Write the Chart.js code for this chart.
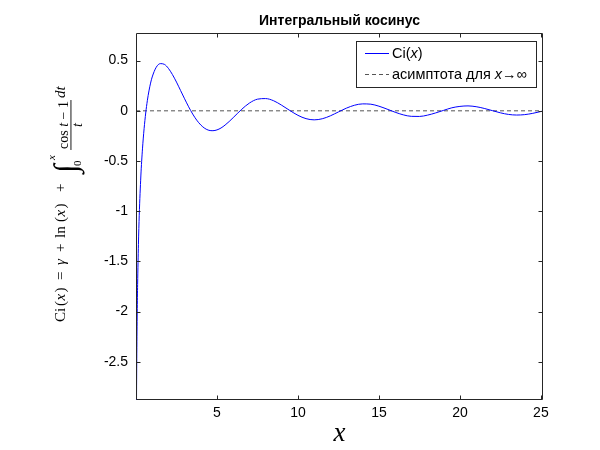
<!DOCTYPE html>
<html>
<head>
<meta charset="utf-8">
<script src="https://cdn.jsdelivr.net/npm/chart.js@4.4.0/dist/chart.umd.min.js"></script>
<style>
  html, body { margin: 0; padding: 0; background: #fff; }
</style>
</head>
<body>
<canvas id="ciChart" width="600" height="450"></canvas>
<script>
// values
const ciX = [0.02, 0.032, 0.05, 0.075, 0.1, 0.15, 0.2, 0.3, 0.4, 0.5, 0.6, 0.7, 0.8, 0.9, 1.0,
  1.25, 1.5, 1.75, 2.0, 2.25, 2.5, 2.75, 3.0, 3.25, 3.5, 3.75, 4.0, 4.25, 4.5, 4.75, 5.0,
  5.25, 5.5, 5.75, 6.0, 6.25, 6.5, 7.0, 7.5, 8.0, 8.5, 9.0, 9.5, 10.0, 10.5, 11.0, 11.5,
  12.0, 12.5, 13.0, 13.5, 14.0, 14.5, 15.0, 15.5, 16.0, 16.5, 17.0, 17.5, 18.0, 18.5, 19.0,
  19.5, 20.0, 20.5, 21.0, 21.5, 22.0, 22.5, 23.0, 23.5, 24.0, 24.5, 25.0, 25.13];
const ciY = [-3.34, -2.87, -2.42, -2.01, -1.73, -1.33, -1.04, -0.649, -0.379, -0.178, -0.022, 0.101, 0.198, 0.276, 0.337,
  0.434, 0.470, 0.463, 0.423, 0.361, 0.286, 0.203, 0.120, 0.040, -0.032, -0.093, -0.141, -0.175, -0.194, -0.198, -0.190,
  -0.171, -0.142, -0.107, -0.068, -0.028, 0.011, 0.077, 0.116, 0.122, 0.100, 0.055, 0.003, -0.045, -0.078, -0.090, -0.079,
  -0.050, -0.011, 0.027, 0.056, 0.069, 0.066, 0.046, 0.017, -0.014, -0.040, -0.055, -0.056, -0.043, -0.021, 0.005,
  0.030, 0.044, 0.049, 0.041, 0.024, 0.002, -0.020, -0.036, -0.042, -0.038, -0.025, -0.007, -0.002];
const asymX = [0, 25.13];
const asymY = [0, 0];
const seriesLabels = ['Ci(x)', 'асимптота для x→∞'];
const xTicks = [5, 10, 15, 20, 25];
const yTicks = [-2.5, -2, -1.5, -1, -0.5, 0, 0.5];
const xRange = [0, 25.13];
const yRange = [-2.88, 0.775];
const chartTitle = 'Интегральный косинус';
const xTitle = 'x';

const SANS = '"Liberation Sans", Arial, Helvetica, sans-serif';
const SERIF = '"Liberation Serif", "Times New Roman", serif';
const AXIS = '#262626';

function toPoints(xs, ys) {
    return xs.map((v, i) => ({ x: v, y: ys[i] }));
}

// legend text, latin x in italic
function drawMixed(ctx, text, x, y, size) {
    let cx = x;
    text.split(/(x)/).forEach(part => {
        if (!part) return;
        ctx.font = (part === 'x' ? 'italic ' : '') + size + 'px ' + SANS;
        ctx.fillText(part, cx, y);
        cx += ctx.measureText(part).width;
    });
}

// the formula on the y axis, written along the axis bottom to top
function drawYLabel(ctx) {
    const rm = '15px ' + SERIF, it = 'italic 15px ' + SERIF;
    const rmS = '14px ' + SERIF, itS = 'italic 14px ' + SERIF;
    ctx.save();
    ctx.translate(65, 322);
    ctx.rotate(-Math.PI / 2);
    ctx.fillStyle = '#000';
    ctx.textAlign = 'left';
    ctx.textBaseline = 'alphabetic';
    const put = (t, s, v, f) => { ctx.font = f; ctx.fillText(t, s, v); };
    put('Ci', 0, 0, rm);
    put('(', 16, 0, rm); put('x', 21.5, 0, it); put(')', 29.5, 0, rm);
    put('=', 42, 0, rm);
    put('γ', 57, 0, it);
    put('+', 70, 0, rm);
    put('ln', 84, 0, rm);
    put('(', 100, 0, rm); put('x', 105.5, 0, it); put(')', 113.5, 0, rm);
    put('+', 130, 0, rm);
    put('∫', 149, 11, '32px ' + SERIF);
    put('x', 162, -10, 'italic 11px ' + SERIF);
    put('0', 156, 16, '11px ' + SERIF);
    // fraction
    ctx.font = rmS;
    const wCos = ctx.measureText('cos ').width;
    ctx.font = itS;
    const wT = ctx.measureText('t').width;
    ctx.font = rmS;
    const wRest = ctx.measureText(' − 1').width;
    const numW = wCos + wT + wRest;
    const c = 197;
    const s0 = c - numW / 2;
    put('cos ', s0, 3, rmS);
    put('t', s0 + wCos, 3, itS);
    put(' − 1', s0 + wCos + wT, 3, rmS);
    ctx.fillRect(c - numW / 2 - 1, 5.5, numW + 2, 0.9);
    put('t', c - wT / 2, 16.5, itS);
    put('dt', 224, 0, it);
    ctx.restore();
}

const decorations = {
    id: 'decorations',
    afterDraw(chart) {
        const { ctx, chartArea: a } = chart;
        const xs = chart.scales.x, ys = chart.scales.y;
        ctx.save();

        // axes box with inward ticks
        const L = Math.round(a.left) + 0.5, R = Math.round(a.right) - 0.5;
        const T = Math.round(a.top) + 0.5, B = Math.round(a.bottom) - 0.5;
        ctx.strokeStyle = AXIS;
        ctx.lineWidth = 1;
        ctx.beginPath();
        ctx.rect(L, T, R - L, B - T);
        xs.ticks.forEach(t => {
            const px = Math.round(xs.getPixelForValue(t.value)) + 0.5;
            ctx.moveTo(px, B); ctx.lineTo(px, B - 4);
            ctx.moveTo(px, T); ctx.lineTo(px, T + 4);
        });
        ys.ticks.forEach(t => {
            const py = Math.round(ys.getPixelForValue(t.value)) + 0.5;
            ctx.moveTo(L, py); ctx.lineTo(L + 4, py);
            ctx.moveTo(R, py); ctx.lineTo(R - 4, py);
        });
        ctx.stroke();

        // title
        ctx.fillStyle = '#000';
        ctx.textAlign = 'center';
        ctx.textBaseline = 'middle';
        ctx.font = 'bold 14px ' + SANS;
        ctx.fillText(chartTitle, (a.left + a.right) / 2, 21);

        // x axis title
        ctx.font = 'italic 27px ' + SERIF;
        ctx.fillText(xTitle, (a.left + a.right) / 2, 434);

        drawYLabel(ctx);

        // legend
        const bx = 356.5, by = 41.5, bw = 180, bh = 46;
        ctx.fillStyle = '#fff';
        ctx.fillRect(bx, by, bw, bh);
        ctx.strokeStyle = AXIS;
        ctx.strokeRect(bx, by, bw, bh);
        const rows = [53.5, 74.5];
        chart.data.datasets.forEach((ds, i) => {
            ctx.beginPath();
            ctx.strokeStyle = ds.borderColor;
            ctx.lineWidth = ds.borderWidth;
            ctx.setLineDash(ds.borderDash || []);
            ctx.moveTo(365, rows[i]);
            ctx.lineTo(389, rows[i]);
            ctx.stroke();
            ctx.setLineDash([]);
            ctx.fillStyle = '#000';
            ctx.textAlign = 'left';
            ctx.textBaseline = 'middle';
            drawMixed(ctx, ds.label, 392, rows[i], 14.5);
        });
        ctx.restore();
    }
};

new Chart(document.getElementById('ciChart'), {
    type: 'line',
    data: {
        datasets: [
            {
                label: seriesLabels[0],
                data: toPoints(ciX, ciY),
                borderColor: '#0000ff',
                borderWidth: 1,
                pointRadius: 0,
                cubicInterpolationMode: 'monotone',
                fill: false
            },
            {
                label: seriesLabels[1],
                data: toPoints(asymX, asymY),
                borderColor: '#555555',
                borderWidth: 1,
                borderDash: [4, 3],
                pointRadius: 0,
                fill: false
            }
        ]
    },
    options: {
        responsive: false,
        animation: false,
        layout: { padding: { left: 0, right: 57, top: 33, bottom: 0 } },
        plugins: {
            legend: { display: false },
            title: { display: false },
            tooltip: { enabled: false }
        },
        scales: {
            x: {
                type: 'linear',
                min: xRange[0],
                max: xRange[1],
                afterBuildTicks: s => { s.ticks = xTicks.map(v => ({ value: v })); },
                afterFit: s => { s.height = 50; },
                grid: { display: false, drawTicks: false },
                border: { display: false },
                ticks: {
                    color: '#000',
                    font: { family: SANS, size: 14 },
                    padding: 5,
                    maxRotation: 0,
                    autoSkip: false,
                    callback: v => String(v)
                }
            },
            y: {
                type: 'linear',
                min: yRange[0],
                max: yRange[1],
                afterBuildTicks: s => { s.ticks = yTicks.map(v => ({ value: v })); },
                afterFit: s => { s.width = 136; },
                grid: { display: false, drawTicks: false },
                border: { display: false },
                ticks: {
                    color: '#000',
                    font: { family: SANS, size: 14 },
                    padding: 8,
                    autoSkip: false,
                    callback: v => String(v)
                }
            }
        }
    },
    plugins: [decorations]
});
</script>
</body>
</html>
